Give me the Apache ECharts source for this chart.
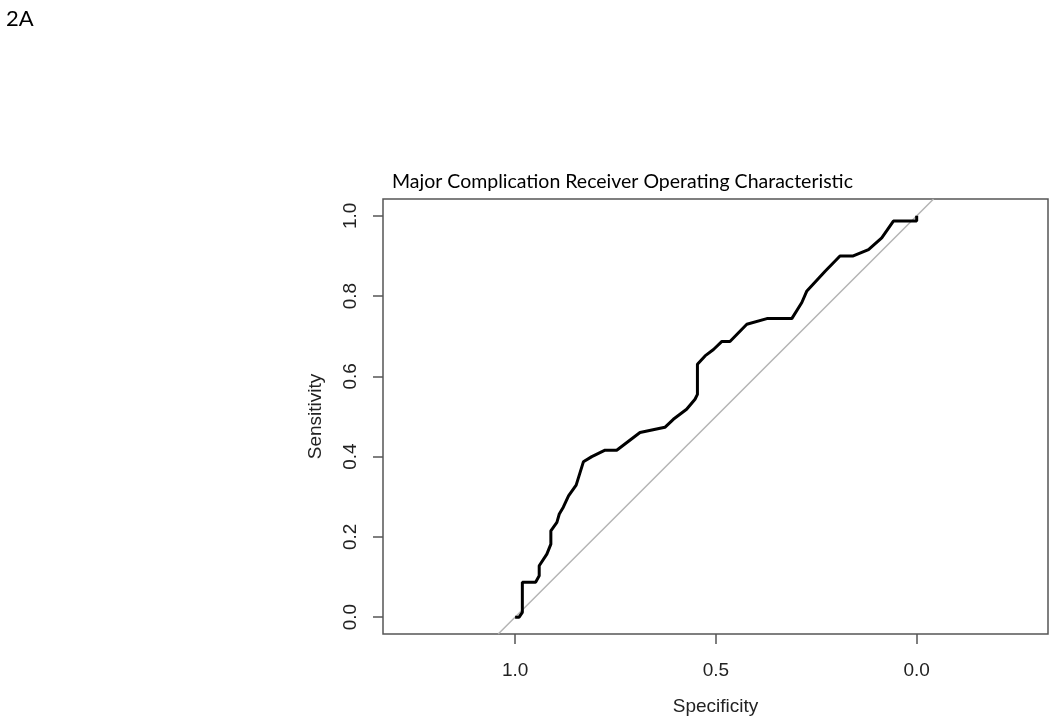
<!DOCTYPE html>
<html>
<head>
<meta charset="utf-8">
<title>Major Complication ROC</title>
<script src="https://cdn.jsdelivr.net/npm/echarts@6/dist/echarts.min.js"></script>
<style>
  html, body { margin: 0; padding: 0; background: #fff; }
  #chart { width: 1050px; height: 716px; }
</style>
</head>
<body>
<div id="chart"></div>
<script>
// ROC curve: specificity (x, reversed) and sensitivity (y)
const specificity = [1.0, 0.99, 0.982, 0.982, 0.949, 0.94, 0.94, 0.921, 0.911, 0.911,
  0.896, 0.89, 0.88, 0.867, 0.848, 0.83, 0.809, 0.776, 0.747, 0.689,
  0.627, 0.606, 0.573, 0.552, 0.546, 0.546, 0.527, 0.506, 0.485, 0.465,
  0.423, 0.373, 0.311, 0.286, 0.274, 0.228, 0.191, 0.158, 0.12, 0.087,
  0.058, 0.0, 0.0];
const sensitivity = [0.0, 0.0, 0.012, 0.087, 0.087, 0.103, 0.128, 0.157, 0.182, 0.215,
  0.236, 0.257, 0.274, 0.302, 0.329, 0.387, 0.40, 0.416, 0.416, 0.46,
  0.473, 0.493, 0.518, 0.543, 0.555, 0.63, 0.651, 0.667, 0.687, 0.687,
  0.73, 0.744, 0.744, 0.784, 0.812, 0.862, 0.90, 0.90, 0.916, 0.945,
  0.987, 0.987, 1.0];

// chance line sens = 1 - spec, across the plotted range
const diagSpec = [1.042, -0.042];
const diagSens = [-0.042, 1.042];

const xTicks = [1.0, 0.5, 0.0];
const yTicks = [0.0, 0.2, 0.4, 0.6, 0.8, 1.0];

const titleText = 'Major Complication Receiver Operating Characteristic';
const panelLabel = '2A';

const chart = echarts.init(document.getElementById('chart'));

const axisColor = '#555';
const fmt = v => v.toFixed(1);

const option = {
  animation: false,
  backgroundColor: '#fff',
  title: [
    {
      text: panelLabel,
      left: 1, top: 3,
      textStyle: { fontFamily: 'Lato', fontWeight: 'normal', fontSize: 22, color: '#000' }
    },
    {
      text: titleText,
      left: 387, top: 167,
      textStyle: { fontFamily: 'Lato', fontWeight: 'normal', fontSize: 19.5, color: '#000' }
    }
  ],
  grid: {
    left: 383, right: 2, top: 199, bottom: 82,
    containLabel: false,
    outerBoundsMode: 'none',
    show: true,
    borderColor: axisColor,
    borderWidth: 1.5,
    backgroundColor: 'transparent'
  },
  xAxis: {
    type: 'value',
    inverse: true,
    min: -0.327,
    max: 1.329,
    name: 'Specificity',
    nameLocation: 'middle',
    nameGap: 63,
    nameTextStyle: { fontFamily: 'Liberation Sans', fontSize: 19, color: '#222' },
    axisLine: { show: false, onZero: false },
    splitLine: { show: false },
    axisTick: {
      show: true,
      inside: false,
      length: 10,
      customValues: xTicks,
      lineStyle: { color: axisColor, width: 1.5 }
    },
    axisLabel: {
      customValues: xTicks,
      formatter: fmt,
      margin: 27,
      fontFamily: 'Liberation Sans',
      fontSize: 19,
      color: '#222'
    }
  },
  yAxis: {
    type: 'value',
    min: -0.042,
    max: 1.042,
    name: 'Sensitivity',
    nameLocation: 'middle',
    nameGap: 58,
    nameTextStyle: { fontFamily: 'Liberation Sans', fontSize: 19, color: '#222' },
    axisLine: { show: false, onZero: false },
    splitLine: { show: false },
    axisTick: {
      show: true,
      inside: false,
      length: 10,
      customValues: yTicks,
      lineStyle: { color: axisColor, width: 1.5 }
    },
    axisLabel: {
      customValues: yTicks,
      formatter: fmt,
      rotate: 90,
      margin: 23,
      fontFamily: 'Liberation Sans',
      fontSize: 19,
      color: '#222'
    }
  },
  series: [
    {
      name: 'chance',
      type: 'line',
      data: diagSpec.map((s, i) => [s, diagSens[i]]),
      showSymbol: false,
      clip: true,
      lineStyle: { color: '#b4b4b4', width: 1.5 },
      silent: true
    },
    {
      name: 'ROC',
      type: 'line',
      data: specificity.map((s, i) => [s, sensitivity[i]]),
      showSymbol: false,
      clip: true,
      lineStyle: { color: '#000', width: 3 }
    }
  ]
};

chart.setOption(option);
</script>
</body>
</html>
